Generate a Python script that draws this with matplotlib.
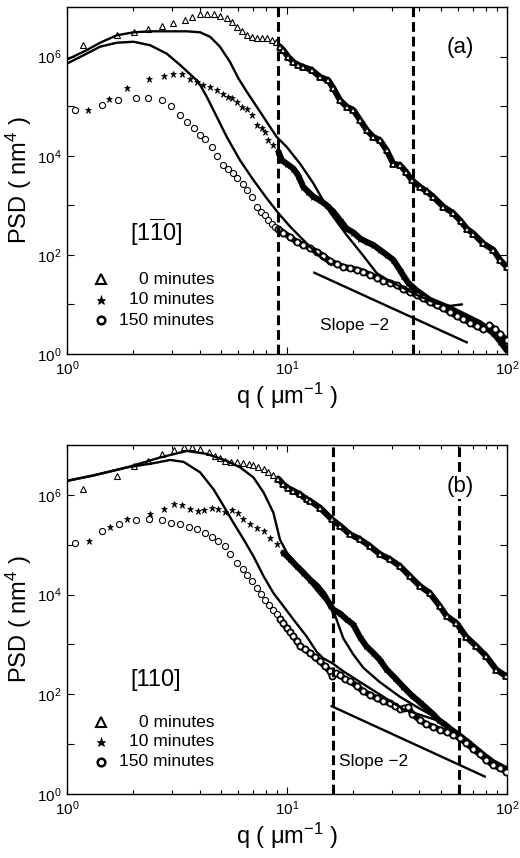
import numpy as np
import matplotlib.pyplot as plt
from matplotlib.ticker import LogLocator, NullFormatter, NullLocator

plt.rcParams['font.family'] = ['Liberation Sans', 'DejaVu Sans']
plt.rcParams['mathtext.default'] = 'regular'

# ---- panel (a): [1-10] direction ----
a_tri_logq = [0.071, 0.226, 0.305, 0.370, 0.430, 0.483, 0.536, 0.567, 0.605, 0.638, 0.668, 0.695,
              0.726, 0.748, 0.771, 0.794, 0.817, 0.839, 0.862, 0.885, 0.908, 0.930, 0.950,
              0.968, 0.983, 1.006, 1.029, 1.051, 1.074, 1.112, 1.150, 1.188, 1.211, 1.241, 1.271,
              1.302, 1.332, 1.362, 1.392, 1.423, 1.453, 1.483, 1.514, 1.540, 1.567, 1.605, 1.635,
              1.665, 1.711, 1.756, 1.790, 1.817, 1.847, 1.892, 1.938, 1.968, 1.998]
a_tri_logpsd = [6.24, 6.43, 6.50, 6.55, 6.61, 6.67, 6.73, 6.80, 6.85, 6.85, 6.85, 6.81,
                6.77, 6.70, 6.60, 6.52, 6.43, 6.40, 6.38, 6.38, 6.38, 6.34, 6.30,
                6.20, 6.13, 5.99, 5.89, 5.83, 5.79, 5.73, 5.59, 5.52, 5.36, 5.12, 4.99,
                4.92, 4.72, 4.52, 4.38, 4.31, 4.11, 3.84, 3.81, 3.68, 3.51, 3.37, 3.28,
                3.17, 2.97, 2.84, 2.68, 2.53, 2.43, 2.23, 2.10, 1.90, 1.76]

a_star_logq = [0.097, 0.192, 0.271, 0.374, 0.442, 0.483, 0.521, 0.559, 0.592, 0.620, 0.650, 0.680,
               0.711, 0.733, 0.748, 0.771, 0.794, 0.817, 0.839, 0.862, 0.885, 0.900, 0.915, 0.938,
               0.961, 0.976, 0.998, 1.029, 1.051, 1.074, 1.097, 1.120, 1.150, 1.180, 1.211, 1.241,
               1.271, 1.302, 1.332, 1.362, 1.392, 1.423, 1.453, 1.483, 1.514, 1.529, 1.552, 1.590,
               1.650, 1.726, 1.800, 1.877, 1.938, 1.970, 1.998]
a_star_logpsd = [4.92, 5.14, 5.36, 5.54, 5.61, 5.65, 5.65, 5.54, 5.49, 5.42, 5.38, 5.32,
                 5.24, 5.19, 5.17, 5.09, 4.99, 4.95, 4.82, 4.62, 4.55, 4.48, 4.31, 4.21,
                 4.08, 3.91, 3.84, 3.74, 3.60, 3.37, 3.27, 3.17, 3.10, 3.00, 2.87, 2.70,
                 2.53, 2.45, 2.33, 2.26, 2.20, 2.10, 2.00, 1.90, 1.69, 1.58, 1.43, 1.28,
                 1.09, 0.95, 0.79, 0.62, 0.42, 0.25, 0.08]

a_circ_logq = [0.036, 0.158, 0.233, 0.314, 0.370, 0.430, 0.473, 0.514, 0.544, 0.575, 0.605, 0.627,
               0.658, 0.680, 0.711, 0.733, 0.753, 0.771, 0.798, 0.817, 0.839, 0.862, 0.882, 0.900,
               0.915, 0.930, 0.946, 0.961, 0.983, 1.014, 1.044, 1.074, 1.104, 1.135, 1.165, 1.195,
               1.226, 1.256, 1.286, 1.317, 1.347, 1.377, 1.408, 1.438, 1.468, 1.498, 1.529, 1.559,
               1.589, 1.620, 1.650, 1.680, 1.711, 1.741, 1.771, 1.801, 1.832, 1.862, 1.890, 1.920,
               1.945, 1.970, 1.998]
a_circ_logpsd = [4.92, 5.03, 5.12, 5.17, 5.17, 5.12, 5.00, 4.82, 4.68, 4.55, 4.42, 4.33,
                 4.18, 3.99, 3.82, 3.74, 3.66, 3.55, 3.42, 3.30, 3.17, 2.97, 2.87, 2.80,
                 2.70, 2.63, 2.57, 2.53, 2.45, 2.36, 2.26, 2.20, 2.14, 2.06, 1.98, 1.88,
                 1.81, 1.76, 1.73, 1.70, 1.66, 1.60, 1.54, 1.48, 1.44, 1.39, 1.31, 1.25,
                 1.19, 1.12, 1.05, 0.98, 0.92, 0.85, 0.76, 0.70, 0.63, 0.56, 0.50, 0.58,
                 0.50, 0.40, 0.28]

a_fit1_logq = [0.0, 0.089, 0.150, 0.226, 0.302, 0.377, 0.453, 0.544, 0.605, 0.650, 0.695, 0.741,
               0.779, 0.817, 0.862, 0.908, 0.953, 0.998, 1.059, 1.120, 1.195, 1.271, 1.340, 1.408,
               1.470, 1.530, 1.600, 1.680, 1.740, 1.794]
a_fit1_logpsd = [5.94, 6.13, 6.28, 6.43, 6.49, 6.51, 6.51, 6.51, 6.49, 6.40, 6.20, 5.89,
                 5.56, 5.29, 4.99, 4.68, 4.38, 4.18, 3.84, 3.44, 2.86, 2.40, 2.02, 1.63,
                 1.46, 1.33, 1.17, 1.02, 0.97, 1.00]

a_fit2_logq = [0.0, 0.089, 0.150, 0.226, 0.302, 0.377, 0.453, 0.514, 0.597, 0.635, 0.680, 0.726,
               0.786, 0.847, 0.908, 0.961, 1.014, 1.074, 1.150, 1.200]
a_fit2_logpsd = [5.86, 6.06, 6.20, 6.28, 6.30, 6.23, 6.06, 5.83, 5.49, 5.19, 4.79, 4.38,
                 3.91, 3.51, 3.14, 2.84, 2.57, 2.30, 1.96, 1.80]

a_slope_logq = [1.124, 1.817]
a_slope_logpsd = [1.64, 0.235]
a_cut_q = [9.14, 37.2]

# ---- panel (b): [110] direction ----
b_tri_logq = [0.073, 0.227, 0.306, 0.366, 0.431, 0.484, 0.533, 0.567, 0.605, 0.643, 0.673, 0.696,
              0.719, 0.744, 0.772, 0.799, 0.825, 0.847, 0.870, 0.893, 0.915, 0.938, 0.961, 0.983,
              1.006, 1.029, 1.059, 1.089, 1.104, 1.150, 1.203, 1.241, 1.286, 1.331, 1.377, 1.422,
              1.467, 1.513, 1.558, 1.604, 1.649, 1.694, 1.725, 1.770, 1.815, 1.861, 1.906, 1.952,
              1.997]
b_tri_logpsd = [6.11, 6.37, 6.57, 6.68, 6.81, 6.90, 6.95, 6.95, 6.92, 6.85, 6.78, 6.73,
                6.68, 6.66, 6.65, 6.64, 6.62, 6.60, 6.55, 6.51, 6.45, 6.39, 6.32, 6.21,
                6.13, 6.08, 6.01, 5.91, 5.88, 5.74, 5.51, 5.38, 5.21, 5.11, 4.97, 4.81,
                4.71, 4.57, 4.37, 4.17, 4.03, 3.77, 3.57, 3.43, 3.15, 2.96, 2.76, 2.49,
                2.36]

b_star_logq = [0.098, 0.194, 0.272, 0.375, 0.439, 0.484, 0.522, 0.560, 0.593, 0.623, 0.658, 0.688,
               0.719, 0.749, 0.779, 0.802, 0.832, 0.862, 0.893, 0.923, 0.953, 0.983, 1.014, 1.044,
               1.074, 1.104, 1.135, 1.165, 1.195, 1.210, 1.241, 1.271, 1.301, 1.331, 1.361, 1.392,
               1.422, 1.452, 1.490, 1.528, 1.566, 1.604, 1.634, 1.664, 1.690, 1.710, 1.750, 1.785,
               1.823, 1.861, 1.900, 1.936, 1.970, 1.997]
b_star_logpsd = [5.07, 5.36, 5.51, 5.61, 5.71, 5.81, 5.79, 5.72, 5.68, 5.70, 5.74, 5.71,
                 5.66, 5.70, 5.63, 5.51, 5.41, 5.34, 5.27, 5.13, 5.02, 4.84, 4.71, 4.57,
                 4.44, 4.30, 4.18, 4.02, 3.80, 3.70, 3.62, 3.50, 3.40, 3.15, 2.96, 2.83,
                 2.69, 2.50, 2.33, 2.15, 1.98, 1.84, 1.72, 1.60, 1.48, 1.42, 1.28, 1.17,
                 1.04, 0.90, 0.76, 0.64, 0.56, 0.50]

b_circ_logq = [0.038, 0.159, 0.234, 0.315, 0.371, 0.431, 0.474, 0.514, 0.555, 0.590, 0.625, 0.658,
               0.688, 0.719, 0.741, 0.772, 0.799, 0.817, 0.840, 0.862, 0.880, 0.900, 0.920, 0.938,
               0.953, 0.968, 0.983, 0.998, 1.014, 1.029, 1.044, 1.059, 1.082, 1.104, 1.127, 1.150,
               1.172, 1.195, 1.206, 1.222, 1.241, 1.263, 1.286, 1.316, 1.346, 1.377, 1.407, 1.437,
               1.467, 1.490, 1.513, 1.530, 1.552, 1.570, 1.604, 1.634, 1.664, 1.695, 1.725, 1.755,
               1.785, 1.815, 1.846, 1.876, 1.906, 1.936, 1.967, 1.997]
b_circ_logpsd = [5.03, 5.27, 5.41, 5.50, 5.51, 5.50, 5.44, 5.41, 5.36, 5.31, 5.24, 5.16,
                 5.07, 4.97, 4.82, 4.63, 4.52, 4.40, 4.28, 4.14, 4.02, 3.90, 3.80, 3.70,
                 3.60, 3.50, 3.42, 3.33, 3.24, 3.16, 3.07, 2.96, 2.90, 2.83, 2.74, 2.66,
                 2.56, 2.46, 2.36, 2.42, 2.39, 2.30, 2.26, 2.17, 2.06, 1.99, 1.92, 1.86,
                 1.82, 1.76, 1.70, 1.72, 1.74, 1.60, 1.48, 1.40, 1.35, 1.29, 1.24, 1.19,
                 1.12, 1.02, 0.90, 0.80, 0.68, 0.58, 0.52, 0.45]

b_fit1_logq = [0.0, 0.121, 0.272, 0.424, 0.545, 0.635, 0.726, 0.787, 0.847, 0.893, 0.938, 0.968,
               0.998, 1.059, 1.104, 1.150, 1.207, 1.256, 1.301, 1.347, 1.420, 1.513, 1.600, 1.695]
b_fit1_logpsd = [6.28, 6.39, 6.55, 6.75, 6.88, 6.82, 6.68, 6.55, 6.35, 6.05, 5.64, 5.10,
                 4.85, 4.50, 4.25, 4.00, 3.72, 3.12, 2.80, 2.53, 2.25, 1.95, 1.72, 1.49]

b_fit2_logq = [0.0, 0.121, 0.272, 0.400, 0.469, 0.530, 0.605, 0.666, 0.711, 0.756, 0.802, 0.847,
               0.893, 0.938, 0.983, 1.029, 1.089, 1.135, 1.165, 1.207, 1.256, 1.316, 1.377, 1.467,
               1.528, 1.610, 1.695]
b_fit2_logpsd = [6.28, 6.39, 6.55, 6.64, 6.70, 6.66, 6.45, 6.11, 5.78, 5.44, 5.11, 4.77,
                 4.37, 4.03, 3.77, 3.50, 3.16, 2.85, 2.72, 2.62, 2.46, 2.29, 2.12, 1.87,
                 1.70, 1.58, 1.46]

b_slope_logq = [1.203, 1.899]
b_slope_logpsd = [1.76, 0.35]
b_cut_q = [16.1, 60.4]

legend_labels = ['0 minutes', '10 minutes', '150 minutes']
xtick_vals = [1, 10, 100]
ytick_vals = [1, 10, 100, 1e3, 1e4, 1e5, 1e6, 1e7]


def series_style(kind, edge=0.8):
    if kind == 'tri':
        return dict(marker='^', ms=4.8, mfc='white', mec='k', mew=edge)
    if kind == 'star':
        return dict(marker='*', ms=5.0, mfc='k', mec='k', mew=0.5)
    return dict(marker='o', ms=4.4, mfc='white', mec='k', mew=edge)


def draw_panel(ax, data, fits, slope, cuts, tag, plane, slope_text_at, plane_y, leg_y):
    # measured PSD: separate markers at low q, a dense textured band at high q
    for kind, lq, lp in data:
        q = 10 ** np.array(lq)
        p = 10 ** np.array(lp)
        dense = q >= 9.0
        ax.plot(q[dense], p[dense], '-', color='k', lw=4.4, zorder=3,
                solid_capstyle='round', solid_joinstyle='round')
        ax.plot(q[~dense], p[~dense], ls='none', zorder=4, **series_style(kind))
        ax.plot(q[dense], p[dense], ls='none', zorder=4, **series_style(kind, edge=1.3))

    # model curves
    for lq, lp in fits:
        ax.plot(10 ** np.array(lq), 10 ** np.array(lp), '-', color='k', lw=1.7, zorder=5)

    # slope -2 guide
    ax.plot(10 ** np.array(slope[0]), 10 ** np.array(slope[1]), '-', color='k', lw=1.7)
    ax.text(slope_text_at[0], slope_text_at[1], 'Slope \u22122', fontsize=12.5,
            ha='left', va='center')

    for c in cuts:
        ax.axvline(c, color='k', lw=2.2, linestyle=(0, (3.2, 1.6)), zorder=6)

    ax.set_xscale('log')
    ax.set_yscale('log')
    ax.set_xlim(1, 100)
    ax.set_ylim(1, 1e7)

    ax.set_xticks(xtick_vals)
    ax.set_xticklabels([r'$10^{%d}$' % i for i in range(3)])
    ax.xaxis.set_minor_locator(LogLocator(base=10, subs=range(2, 10)))
    ax.xaxis.set_minor_formatter(NullFormatter())
    ax.set_yticks(ytick_vals)
    ax.set_yticklabels([r'$10^{%d}$' % i if i % 2 == 0 else '' for i in range(8)])
    ax.yaxis.set_minor_locator(NullLocator())
    ax.tick_params(which='both', direction='in', top=True, right=True, labelsize=11)
    ax.tick_params(which='major', length=5, width=0.8, pad=4)
    ax.tick_params(which='minor', length=3, width=0.8)
    for s in ax.spines.values():
        s.set_linewidth(1.0)

    ax.set_xlabel(r'q ( μm$^{-1}$ )', fontsize=17, labelpad=2)
    ax.set_ylabel(r'PSD ( nm$^4$ )', fontsize=17, labelpad=2)

    ax.text(0.893, 0.882, tag, transform=ax.transAxes, fontsize=16, ha='center', va='center',
            zorder=10, bbox=dict(facecolor='white', edgecolor='none', pad=1.5))
    ax.text(0.202, plane_y, plane, transform=ax.transAxes, fontsize=17, ha='center', va='center')

    # hand-made legend
    syms = [dict(marker='^', ms=6.5, mfc='white', mec='k', mew=1.5),
            dict(marker='*', ms=6.5, mfc='k', mec='k', mew=0.5),
            dict(marker='o', ms=5.5, mfc='white', mec='k', mew=1.8)]
    for yy, sym, lab in zip(leg_y, syms, legend_labels):
        ax.plot([0.077], [yy], transform=ax.transAxes, ls='none', clip_on=False, **sym)
        ax.text(0.334, yy, lab, transform=ax.transAxes, fontsize=12.5, ha='right', va='center')


fig = plt.figure(figsize=(5.2, 8.58), dpi=100)
ax_a = fig.add_axes([0.129, 0.5874, 0.846, 0.4044])
ax_b = fig.add_axes([0.129, 0.0746, 0.846, 0.4068])

draw_panel(ax_a,
           [('tri', a_tri_logq, a_tri_logpsd), ('star', a_star_logq, a_star_logpsd),
            ('circ', a_circ_logq, a_circ_logpsd)],
           [(a_fit1_logq, a_fit1_logpsd), (a_fit2_logq, a_fit2_logpsd)],
           (a_slope_logq, a_slope_logpsd), a_cut_q, '(a)',
           r'[1$\overline{1}$0]', (14.1, 3.8), 0.350, [0.216, 0.156, 0.098])

draw_panel(ax_b,
           [('tri', b_tri_logq, b_tri_logpsd), ('star', b_star_logq, b_star_logpsd),
            ('circ', b_circ_logq, b_circ_logpsd)],
           [(b_fit1_logq, b_fit1_logpsd), (b_fit2_logq, b_fit2_logpsd)],
           (b_slope_logq, b_slope_logpsd), b_cut_q, '(b)',
           '[110]', (17.3, 4.5), 0.327, [0.206, 0.149, 0.092])

fig.savefig('out.png', dpi=100)
